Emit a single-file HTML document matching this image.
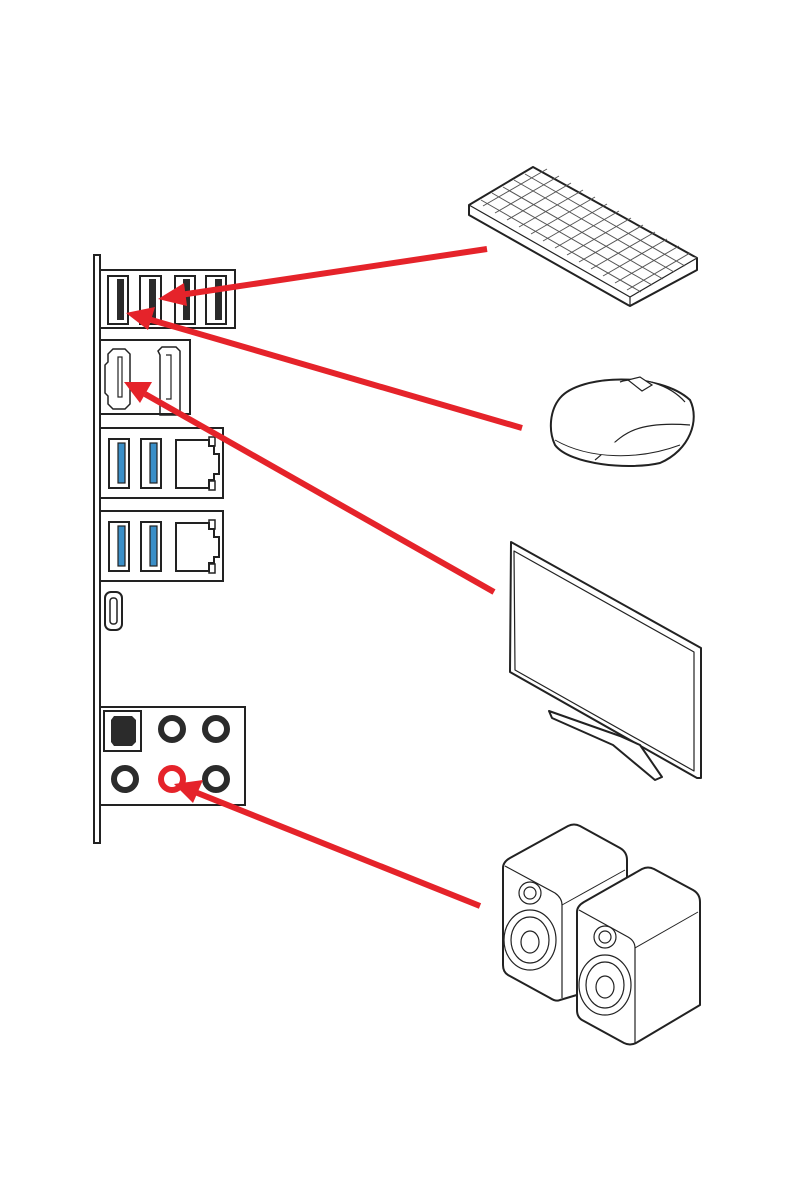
<!DOCTYPE html>
<html><head><meta charset="utf-8"><style>body{margin:0;background:#fff}svg{display:block}</style></head><body>
<svg width="794" height="1191" viewBox="0 0 794 1191" xmlns="http://www.w3.org/2000/svg">
<g fill="none" stroke="#222" stroke-width="2">
<!-- panel bar -->
<rect x="94" y="255" width="6" height="588" fill="#fff"/>
<!-- USB block -->
<rect x="100" y="270" width="135" height="58"/>
<rect x="108" y="276" width="20" height="48"/><rect x="140" y="276" width="21" height="48"/>
<rect x="175" y="276" width="20" height="48"/><rect x="206" y="276" width="20" height="48"/>
</g>
<g fill="#2b2b2b">
<rect x="117" y="279" width="7" height="41"/><rect x="149" y="279" width="7" height="41"/>
<rect x="183" y="279" width="7" height="41"/><rect x="215" y="279" width="7" height="41"/>
</g>
<g fill="none" stroke="#222" stroke-width="2">
<rect x="100" y="340" width="90" height="74"/>
<path d="M113 349 h12 l5 5 v50 l-5 5 h-12 l-5 -5 v-8 l-3 -3 v-28 l3 -3 v-8z" stroke-width="1.5"/>
<rect x="118" y="357" width="4" height="40" stroke-width="1.2"/>
<path d="M162 347 h14 l4 4 v64 h-20 v-60 l-2 -4z" stroke-width="1.5"/>
<path d="M166 355 h5 v44 h-5" stroke-width="1.2"/>
<rect x="100" y="428" width="123" height="70"/>
<rect x="109" y="439" width="20" height="49"/><rect x="141" y="439" width="20" height="49"/>
<path d="M176 440 h33 v6 h5 v8 h5 v20 h-5 v6 h-5 v8 h-33z"/>
<rect x="209" y="437" width="6" height="9" stroke-width="1.5"/><rect x="209" y="481" width="6" height="9" stroke-width="1.5"/>
<rect x="100" y="511" width="123" height="70"/>
<rect x="109" y="522" width="20" height="49"/><rect x="141" y="522" width="20" height="49"/>
<path d="M176 523 h33 v6 h5 v8 h5 v20 h-5 v6 h-5 v8 h-33z"/>
<rect x="209" y="520" width="6" height="9" stroke-width="1.5"/><rect x="209" y="564" width="6" height="9" stroke-width="1.5"/>
<rect x="105" y="592" width="17" height="38" rx="6"/>
<rect x="110" y="598" width="7" height="26" rx="3" stroke-width="1.5"/>
<rect x="100" y="707" width="145" height="98"/>
<rect x="104" y="711" width="37" height="40"/>
</g>
<g fill="#2b2b2b"><rect x="118" y="441" width="7" height="0"/></g>
<g fill="#3a8fc8" stroke="#222" stroke-width="1.2">
<rect x="118" y="443" width="7" height="40"/><rect x="150" y="443" width="7" height="40"/>
<rect x="118" y="526" width="7" height="40"/><rect x="150" y="526" width="7" height="40"/>
</g>
<path d="M114 716 h18 l4 4 v22 l-4 4 h-18 l-3 -4 v-22z" fill="#2b2b2b"/>
<g fill="none" stroke="#2b2b2b" stroke-width="6">
<circle cx="172" cy="729" r="11"/><circle cx="216" cy="729" r="11"/>
<circle cx="125" cy="779" r="11"/><circle cx="216" cy="779" r="11"/>
</g>
<circle cx="172" cy="779" r="11" fill="none" stroke="#e5232a" stroke-width="6"/>
<!-- keyboard -->
<g fill="#fff" stroke="#222" stroke-width="2" stroke-linejoin="round">
<path d="M469 205 L533 167 L697 258 L697 270 L630 306 L628 305 L469 215 Z"/>
<path d="M469 205 L630 297 L697 258" stroke-width="1.2"/>
<path d="M630 297 V305" stroke-width="1.2"/>
</g>
<g stroke="#555" stroke-width="1" fill="none">
<path d="M483 206 L547 169 M495 213 L559 176 M507 220 L571 183 M519 227 L583 190 M531 234 L595 197 M543 241 L607 204 M555 248 L619 211 M567 255 L631 218 M579 262 L643 225 M591 269 L655 232 M603 276 L667 239 M615 283 L679 246 M627 290 L690 253"/>
<path d="M481 200 L641 292 M492 193 L652 285 M503 187 L663 279 M514 180 L674 272 M525 174 L685 266"/>
</g>
<!-- mouse -->
<g fill="#fff" stroke="#222" stroke-width="2">
<path d="M560 398 C580 374 660 372 690 400 C700 420 690 450 660 463 C630 470 570 465 555 445 C548 430 550 410 560 398Z"/>
<path d="M620 382 C640 375 670 385 685 402" stroke-width="1.2"/>
<path d="M628 380 l12 -3 l12 8 l-10 6 z" stroke-width="1.2"/>
<path d="M595 460 C620 440 625 420 690 425" stroke-width="1.2"/>
<path d="M555 440 C590 460 640 460 680 445" stroke-width="1"/>
</g>
<!-- monitor -->
<g fill="#fff" stroke="#222" stroke-width="2" stroke-linejoin="round">
<path d="M511 542 L701 648 L701 778 L697 778 L510 672 Z"/>
<path d="M514 551 L694 652 L694 771 L515 670 Z" stroke-width="1.2"/>
<path d="M549 711 L552 718 L613 745 L655 780 L662 777 L640 745 L620 736 Z"/>
</g>
<!-- speakers -->
<g fill="#fff" stroke="#222" stroke-width="2" stroke-linejoin="round">
<path d="M503 868 Q503 862 510 858 L568 826 Q574 823 580 826 L620 848 Q627 852 627 860 L627 980 L560 1000 Q556 1002 550 998 L508 975 Q503 972 503 965 Z"/>
<path d="M505 866 L555 893 Q562 898 562 905 L562 998" stroke-width="1.2"/>
<path d="M562 905 L625 870" stroke-width="1"/>
<circle cx="530" cy="893" r="11" stroke-width="1.2"/><circle cx="530" cy="893" r="6" stroke-width="1.2"/>
<ellipse cx="530" cy="940" rx="26" ry="30" stroke-width="1.2"/><ellipse cx="530" cy="940" rx="19" ry="23" stroke-width="1.2"/><ellipse cx="530" cy="942" rx="9" ry="11" stroke-width="1.2"/>
<path d="M577 912 Q577 906 584 902 L642 869 Q648 866 654 869 L693 890 Q700 894 700 902 L700 1005 L636 1043 Q630 1046 624 1043 L582 1020 Q577 1017 577 1010 Z"/>
<path d="M579 910 L628 937 Q635 941 635 948 L635 1043" stroke-width="1.2"/>
<path d="M635 948 L698 912" stroke-width="1"/>
<circle cx="605" cy="937" r="11" stroke-width="1.2"/><circle cx="605" cy="937" r="6" stroke-width="1.2"/>
<ellipse cx="605" cy="985" rx="26" ry="30" stroke-width="1.2"/><ellipse cx="605" cy="985" rx="19" ry="23" stroke-width="1.2"/><ellipse cx="605" cy="987" rx="9" ry="11" stroke-width="1.2"/>
</g>
<!-- arrows -->
<g stroke="#e5232a" stroke-width="6" fill="#e5232a">
<line x1="487" y1="249" x2="180" y2="295"/>
<polygon points="158,299 184,283 187,306" stroke="none"/>
<line x1="522" y1="428" x2="148" y2="319"/>
<polygon points="126,313 155,307 148,330" stroke="none"/>
<line x1="494" y1="592" x2="145" y2="394"/>
<polygon points="124,382 152,382 140,403" stroke="none"/>
<line x1="480" y1="906" x2="195" y2="792"/>
<polygon points="174,784 203,780 193,803" stroke="none"/>
</g>
</svg>
</body></html>
